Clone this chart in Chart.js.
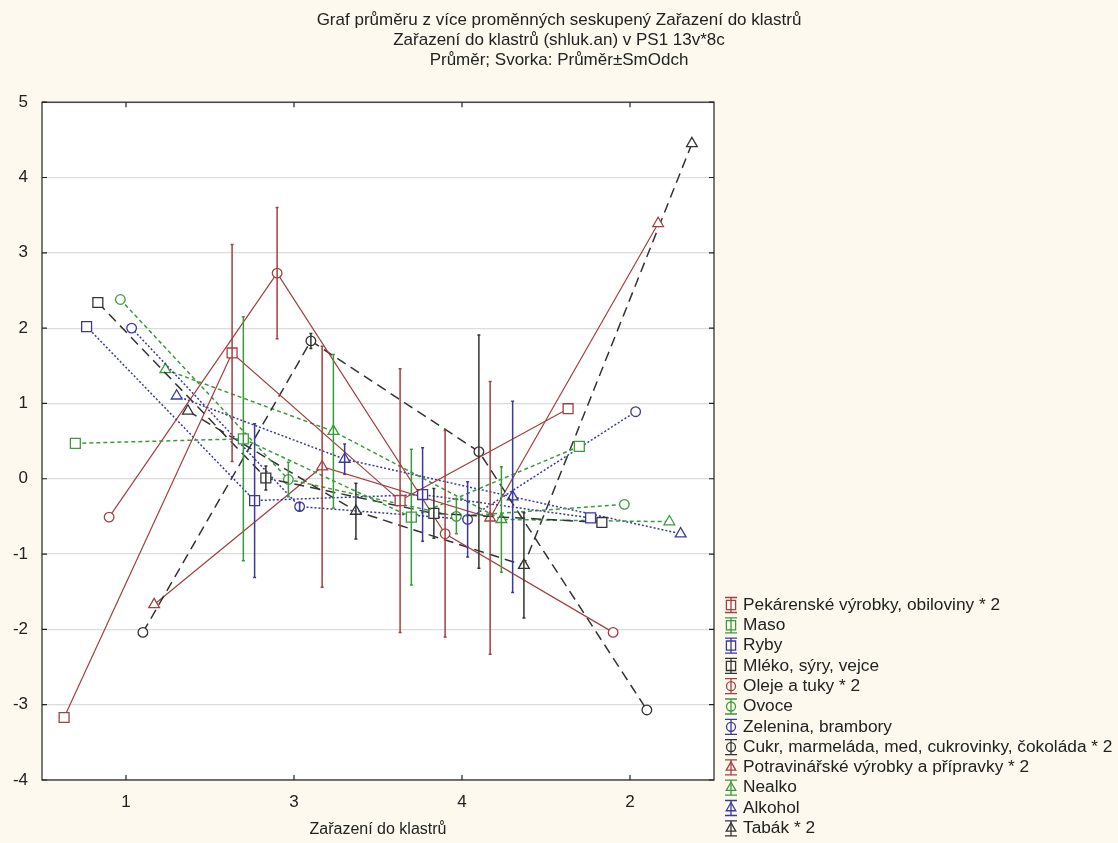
<!DOCTYPE html>
<html lang="cs">
<head>
<meta charset="UTF-8">
<title>Graf průměru z více proměnných</title>
<script src="https://cdn.jsdelivr.net/npm/chart.js"></script>
<style>
  html, body { margin: 0; padding: 0; background: #fdf9ee; }
  #wrap { width: 1118px; height: 843px; }
</style>
</head>
<body>
<div id="wrap"><canvas id="meansChart" width="1118" height="843"></canvas></div>
<script>
// cluster order as shown on the x axis
const clusters = ['1', '3', '4', '2'];

const seriesNames = [
  'Pekárenské výrobky, obiloviny * 2',
  'Maso',
  'Ryby',
  'Mléko, sýry, vejce',
  'Oleje a tuky * 2',
  'Ovoce',
  'Zelenina, brambory',
  'Cukr, marmeláda, med, cukrovinky, čokoláda * 2',
  'Potravinářské výrobky a přípravky * 2',
  'Nealko',
  'Alkohol',
  'Tabák * 2'
];

// means per cluster (1, 3, 4, 2)
const pekarenske = [-3.17, 1.67, -0.29, 0.93];
const maso       = [0.47, 0.53, -0.51, 0.43];
const ryby       = [2.02, -0.29, -0.21, -0.52];
const mleko      = [2.34, 0.01, -0.46, -0.58];
const oleje      = [-0.51, 2.73, -0.73, -2.04];
const ovoce      = [2.38, -0.01, -0.50, -0.34];
const zelenina   = [2.00, -0.37, -0.54, 0.89];
const cukr       = [-2.04, 1.83, 0.36, -3.07];
const potravin   = [-1.67, 0.16, -0.52, 3.39];
const nealko     = [1.45, 0.63, -0.54, -0.57];
const alkohol    = [1.10, 0.26, -0.24, -0.73];
const tabak      = [0.90, -0.43, -1.15, 4.45];

// std. deviations (clusters 1 and 2 have one member -> no whisker)
const pekarenskeSd = [null, 1.44, 1.75, null];
const masoSd       = [null, 1.62, 0.90, null];
const rybySd       = [null, 1.02, 0.62, null];
const mlekoSd      = [null, 0.16, 0.33, null];
const olejeSd      = [null, 0.87, 1.37, null];
const ovoceSd      = [null, 0.23, 0.23, null];
const zeleninaSd   = [null, 0.05, 0.50, null];
const cukrSd       = [null, 0.10, 1.55, null];
const potravinSd   = [null, 1.60, 1.81, null];
const nealkoSd     = [null, 1.02, 0.70, null];
const alkoholSd    = [null, 0.20, 1.27, null];
const tabakSd      = [null, 0.37, 0.70, null];

const yTicks = [5, 4, 3, 2, 1, 0, -1, -2, -3, -4];

const means = [pekarenske, maso, ryby, mleko, oleje, ovoce, zelenina, cukr, potravin, nealko, alkohol, tabak];
const sds = [pekarenskeSd, masoSd, rybySd, mlekoSd, olejeSd, ovoceSd, zeleninaSd, cukrSd, potravinSd, nealkoSd, alkoholSd, tabakSd];

const colors = ['#a3413f', '#3b9b3b', '#3a3a9e', '#333333'];
const dashes = [[], [4, 3], [2, 2], [10, 6]];
const markers = ['rect', 'circle', 'triangle'];
const markerSize = { rect: 7, circle: 4.8, triangle: 6.2 };
const SPREAD = 0.067; // horizontal shift between series inside one cluster

const datasets = seriesNames.map((name, i) => {
  const col = colors[i % 4];
  const style = markers[Math.floor(i / 4)];
  return {
    label: name,
    data: means[i].map((y, c) => ({ x: c + (i - 5.5) * SPREAD, y: y })),
    sd: sds[i],
    showLine: true,
    borderColor: col,
    borderWidth: i % 4 === 0 ? 1.2 : 1.5,
    borderDash: dashes[i % 4],
    pointStyle: style,
    pointRadius: markerSize[style],
    pointBorderColor: col,
    pointBackgroundColor: '#ffffff',
    pointBorderWidth: 1.3
  };
});

const FONT = '"Liberation Sans", Arial, sans-serif';

const backdrop = {
  id: 'backdrop',
  beforeDraw(chart) {
    const { ctx, chartArea: a } = chart;
    ctx.save();
    ctx.fillStyle = '#fdf9ee';
    ctx.fillRect(0, 0, chart.width, chart.height);
    ctx.fillStyle = '#ffffff';
    ctx.fillRect(a.left, a.top, a.right - a.left, a.bottom - a.top);
    ctx.restore();
  }
};

// mean +- SD whiskers
const whiskers = {
  id: 'whiskers',
  afterDatasetsDraw(chart) {
    const { ctx, scales: { x, y } } = chart;
    ctx.save();
    chart.data.datasets.forEach(ds => {
      ctx.strokeStyle = ds.borderColor;
      ctx.lineWidth = 1.5;
      ds.data.forEach((p, c) => {
        const s = ds.sd[c];
        if (s == null) return;
        const px = x.getPixelForValue(p.x);
        const top = y.getPixelForValue(p.y + s);
        const bot = y.getPixelForValue(p.y - s);
        ctx.beginPath();
        ctx.moveTo(px, top); ctx.lineTo(px, bot);
        ctx.moveTo(px - 1.5, top); ctx.lineTo(px + 1.5, top);
        ctx.moveTo(px - 1.5, bot); ctx.lineTo(px + 1.5, bot);
        ctx.stroke();
      });
    });
    ctx.restore();
  }
};

// frame round the plot with inward tick marks
const frame = {
  id: 'frame',
  afterDraw(chart) {
    const { ctx, chartArea: a, scales: { x, y } } = chart;
    ctx.save();
    ctx.strokeStyle = '#222';
    ctx.lineWidth = 1.2;
    ctx.strokeRect(a.left, a.top, a.right - a.left, a.bottom - a.top);
    ctx.beginPath();
    clusters.forEach((c, i) => {
      const px = x.getPixelForValue(i);
      ctx.moveTo(px, a.top); ctx.lineTo(px, a.top + 5);
      ctx.moveTo(px, a.bottom); ctx.lineTo(px, a.bottom - 5);
    });
    yTicks.forEach(v => {
      const py = y.getPixelForValue(v);
      ctx.moveTo(a.left, py); ctx.lineTo(a.left + 5, py);
      ctx.moveTo(a.right, py); ctx.lineTo(a.right - 5, py);
    });
    ctx.stroke();
    ctx.restore();
  }
};

// Statistica-like legend in the lower right corner
const sideLegend = {
  id: 'sideLegend',
  afterDraw(chart) {
    const { ctx } = chart;
    const ix = 731, tx = 743, y0 = 605, dy = 20.3;
    ctx.save();
    ctx.font = '17.3px ' + FONT;
    ctx.textBaseline = 'middle';
    chart.data.datasets.forEach((ds, i) => {
      const cy = y0 + i * dy;
      ctx.strokeStyle = ds.borderColor;
      ctx.lineWidth = 1.3;
      ctx.setLineDash([]);
      ctx.beginPath();
      ctx.moveTo(ix - 6, cy - 7.5); ctx.lineTo(ix + 6, cy - 7.5);
      ctx.moveTo(ix - 6, cy + 7.5); ctx.lineTo(ix + 6, cy + 7.5);
      ctx.moveTo(ix, cy - 7.5); ctx.lineTo(ix, cy + 7.5);
      ctx.stroke();
      ctx.fillStyle = 'rgba(255,255,255,0)';
      Chart.helpers.drawPoint(ctx, {
        pointStyle: ds.pointStyle,
        radius: ds.pointStyle === 'rect' ? 6.5 : (ds.pointStyle === 'circle' ? 4.5 : 5.5),
        borderWidth: 1.3,
        rotation: 0
      }, ix, cy);
      ctx.fillStyle = '#222';
      ctx.fillText(ds.label, tx, cy);
    });
    ctx.restore();
  }
};

new Chart(document.getElementById('meansChart'), {
  type: 'scatter',
  data: { datasets: datasets },
  plugins: [backdrop, whiskers, frame, sideLegend],
  options: {
    responsive: false,
    animation: false,
    layout: { padding: 0 },
    plugins: {
      legend: { display: false },
      tooltip: { enabled: false },
      title: {
        display: true,
        text: [
          'Graf průměru z více proměnných seskupený Zařazení do klastrů',
          'Zařazení do klastrů (shluk.an) v PS1 13v*8c',
          'Průměr; Svorka: Průměr±SmOdch'
        ],
        color: '#222',
        font: { family: FONT, size: 17, weight: 'normal', lineHeight: 1.18 },
        padding: { top: 10, bottom: 32 }
      }
    },
    scales: {
      x: {
        type: 'linear',
        min: -0.5,
        max: 3.5,
        afterBuildTicks: s => { s.ticks = clusters.map((c, i) => ({ value: i })); },
        afterFit: s => { s.height = 63; },
        ticks: {
          callback: v => clusters[v],
          color: '#222',
          font: { family: FONT, size: 17 },
          padding: 4,
          maxRotation: 0
        },
        grid: { display: false },
        border: { display: false },
        title: {
          display: true,
          text: 'Zařazení do klastrů',
          color: '#222',
          font: { family: FONT, size: 16 },
          padding: { top: 0, bottom: 4 }
        }
      },
      y: {
        min: -4,
        max: 5,
        afterBuildTicks: s => { s.ticks = yTicks.map(v => ({ value: v })); },
        afterFit: s => { s.width = 42; },
        ticks: {
          color: '#222',
          font: { family: FONT, size: 17 },
          padding: 14
        },
        grid: { color: '#dcdcdc', lineWidth: 1.2, drawTicks: false },
        border: { display: false }
      },
      // empty right-hand box that keeps room for the legend
      legendRoom: {
        type: 'linear',
        position: 'right',
        afterFit: s => { s.width = 404; },
        ticks: { display: false },
        grid: { display: false },
        border: { display: false }
      }
    }
  }
});
</script>
</body>
</html>
